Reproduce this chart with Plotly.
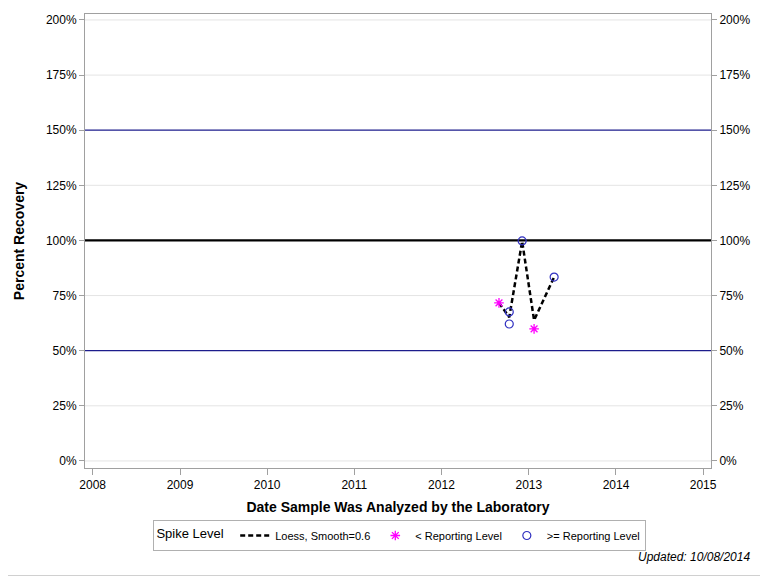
import plotly.graph_objects as go

# Spike recovery data
below_dates = ['2012-08-29', '2013-01-23']
below_values = [71.7, 59.9]

above_dates = ['2012-10-11', '2012-10-11', '2012-12-04', '2013-04-17']
above_values = [67.6, 62.1, 99.8, 83.4]

loess_dates = ['2012-08-29', '2012-10-11', '2012-12-04', '2013-01-23', '2013-04-17']
loess_values = [71.7, 65.2, 99.6, 63.8, 83.4]

ref_levels = [50, 150]
target_level = 100

y_ticks = [0, 25, 50, 75, 100, 125, 150, 175, 200]
y_labels = [f'{v}%' for v in y_ticks]
x_ticks = ['2008-01-01', '2009-01-01', '2010-01-01', '2011-01-01',
           '2012-01-01', '2013-01-01', '2014-01-01', '2015-01-01']
x_labels = ['2008', '2009', '2010', '2011', '2012', '2013', '2014', '2015']

font_family = 'Liberation Sans, Arial, sans-serif'
axis_gray = '#a0a0a0'

# the page body adds an 8px offset, so the figure is a bit smaller
W, H = 760, 568
ML, MR, MT, MB = 77, 57, 6, 108
PW, PH = W - ML - MR, H - MT - MB

fig = go.Figure()

fig.add_trace(go.Scatter(
    x=loess_dates, y=loess_values,
    mode='lines',
    name='Loess, Smooth=0.6',
    line=dict(color='black', width=2.5, dash='5px,3px'),
))

fig.add_trace(go.Scatter(
    x=below_dates, y=below_values,
    mode='markers',
    name='< Reporting Level',
    marker=dict(symbol='asterisk-open', size=8, color='#ff00ff',
                line=dict(color='#ff00ff', width=1.3)),
))

fig.add_trace(go.Scatter(
    x=above_dates, y=above_values,
    mode='markers',
    name='>= Reporting Level',
    marker=dict(symbol='circle-open', size=8, color='#3030c0',
                line=dict(color='#3030c0', width=1.2)),
))

# mirrored right axis (labels only)
fig.add_trace(go.Scatter(
    x=[x_ticks[0]], y=[0], yaxis='y2', mode='markers',
    marker=dict(opacity=0), showlegend=False, hoverinfo='skip',
))

# light grid lines, skipping the reference levels
for v in y_ticks:
    if v in ref_levels or v == target_level:
        continue
    fig.add_shape(type='line', xref='paper', yref='y', x0=0, x1=1, y0=v, y1=v,
                  line=dict(color='#e4e4e4', width=1), layer='below')

# reference lines
for lvl in ref_levels:
    fig.add_shape(type='line', xref='paper', yref='y', x0=0, x1=1, y0=lvl, y1=lvl,
                  line=dict(color='#1c1c8c', width=1.2), layer='below')
fig.add_shape(type='line', xref='paper', yref='y', x0=0, x1=1,
              y0=target_level, y1=target_level,
              line=dict(color='black', width=2.2), layer='below')

# outer frame (right and bottom edges are visible)
fig.add_shape(type='rect', xref='paper', yref='paper',
              x0=-(ML + 2) / PW, x1=(W - 1.5 - ML) / PW,
              y0=-(MB - 0.5) / PH, y1=1 + (MT + 2) / PH,
              line=dict(color='#d0d0d0', width=1))

yrange = [-3.2, 202.7]
fig.update_layout(
    width=W, height=H,
    margin=dict(l=ML, r=MR, t=MT, b=MB),
    plot_bgcolor='white', paper_bgcolor='white',
    font=dict(family=font_family, size=12, color='black'),
    xaxis=dict(
        type='date', range=['2007-11-30', '2015-02-03'],
        tickvals=x_ticks, ticktext=x_labels,
        ticks='outside', ticklen=6, tickcolor=axis_gray,
        showline=True, linecolor=axis_gray, mirror=True,
        showgrid=False, zeroline=False,
        title=dict(text='<b>Date Sample Was Analyzed by the Laboratory</b>',
                   font=dict(size=14), standoff=10),
    ),
    yaxis=dict(
        range=yrange, tickvals=y_ticks, ticktext=y_labels,
        ticks='outside', ticklen=5, tickcolor=axis_gray,
        showline=True, linecolor=axis_gray, mirror=True,
        showgrid=False, zeroline=False,
        title=dict(text='<b>Percent Recovery</b>', font=dict(size=14), standoff=17),
    ),
    yaxis2=dict(
        range=yrange, tickvals=y_ticks, ticktext=y_labels,
        overlaying='y', side='right', anchor='x',
        ticks='outside', ticklen=5, tickcolor=axis_gray,
        showline=False, showgrid=False, zeroline=False,
    ),
    legend=dict(
        orientation='h', x=0.503, xanchor='center', y=-52 / PH, yanchor='top',
        title=dict(text='Spike Level ', font=dict(size=13)),
        bordercolor='#b0b0b0', borderwidth=1,
        font=dict(size=11),
    ),
    annotations=[dict(
        text='<i>Updated: 10/08/2014</i>', xref='paper', yref='paper',
        x=1 + 41 / PW, xanchor='right', y=-89 / PH, yanchor='middle',
        showarrow=False, font=dict(size=12),
    )],
)

fig.write_html('out.html')
